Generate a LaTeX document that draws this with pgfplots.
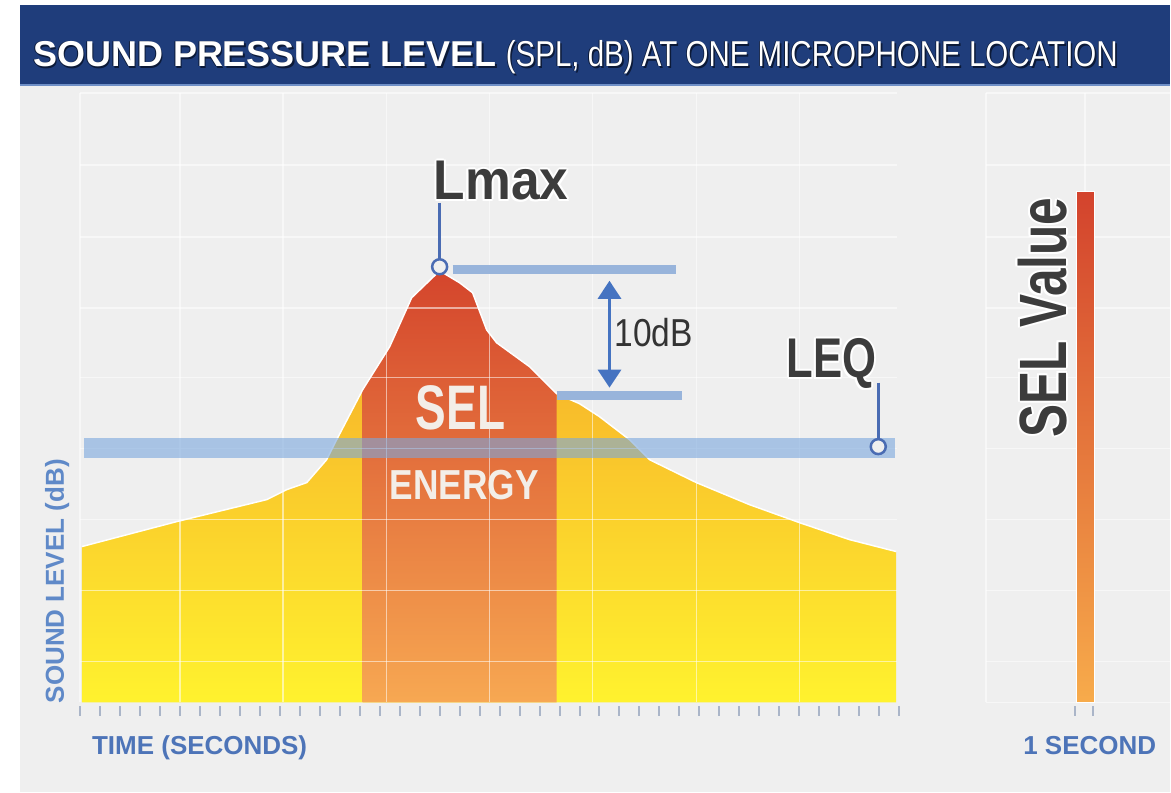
\documentclass[border=0pt]{standalone}
\usepackage{pgfplots}
\pgfplotsset{compat=1.18}
\usetikzlibrary{arrows.meta}
\usepackage{fontspec}
\setmainfont{Liberation Sans}
\newfontfamily\condLmax{Liberation Sans}[FakeStretch=0.92]
\newfontfamily\condLeq{Liberation Sans}[FakeStretch=0.78]
\newfontfamily\condSelV{Liberation Sans}[FakeStretch=0.74]
\newfontfamily\condSel{Liberation Sans}[FakeStretch=0.73]
\newfontfamily\condEn{Liberation Sans}[FakeStretch=0.84]
\newfontfamily\condTen{Liberation Sans}[FakeStretch=0.86]
\newfontfamily\condTitle{Liberation Sans}[FakeStretch=0.82]

\definecolor{bggray}{HTML}{EFEFEF}
\definecolor{navy}{HTML}{1F3D7B}
\definecolor{navyline}{HTML}{6F8FC6}
\definecolor{titleshadow}{HTML}{0C1A38}
\definecolor{ytop}{HTML}{F5A52A}
\definecolor{ybot}{HTML}{FFF22E}
\definecolor{rtop}{HTML}{D4452C}
\definecolor{rbot}{HTML}{F7A852}
\definecolor{leq}{HTML}{7AA7DD}
\definecolor{barblue}{HTML}{98B4DB}
\definecolor{lineblue}{HTML}{4A6CB3}
\definecolor{arrowblue}{HTML}{4573C1}
\definecolor{labc}{HTML}{3C3C3C}
\definecolor{axblue}{HTML}{4D74B8}
\definecolor{axblue2}{HTML}{5F89C8}
\definecolor{tickc}{HTML}{AAB5C8}
\definecolor{selwhite}{HTML}{F3EEE8}
\definecolor{svtop}{HTML}{D3432D}
\definecolor{svbot}{HTML}{F7AB4B}

\newcommand\halo[1]{\leavevmode
  \rlap{\color{white}\kern2pt #1}%
  \rlap{\color{white}\kern-2pt #1}%
  \rlap{\color{white}\raisebox{2pt}{#1}}%
  \rlap{\color{white}\raisebox{-2pt}{#1}}%
  \rlap{\color{white}\kern1.4pt\raisebox{1.4pt}{#1}}%
  \rlap{\color{white}\kern-1.4pt\raisebox{1.4pt}{#1}}%
  \rlap{\color{white}\kern1.4pt\raisebox{-1.4pt}{#1}}%
  \rlap{\color{white}\kern-1.4pt\raisebox{-1.4pt}{#1}}%
  #1}
\newcommand\shadowtext[1]{\leavevmode
  \rlap{\color{titleshadow}\kern1.6pt\raisebox{-1.6pt}{#1}}%
  \rlap{\color{titleshadow}\kern-0.8pt\raisebox{0.8pt}{#1}}%
  #1}

\begin{document}
\begin{tikzpicture}
\begin{axis}[
  x=1pt, y=1pt,
  xmin=0, xmax=1171, ymin=0, ymax=793,
  y dir=reverse,
  hide axis, clip=false,
]
% backgrounds
\addplot[fill=white, draw=none] coordinates {(0,0) (1171,0) (1171,793) (0,793)} -- cycle;
\addplot[fill=bggray, draw=none] coordinates {(20,86) (1171,86) (1171,793) (20,793)} -- cycle;
\addplot[fill=navy, draw=none] coordinates {(20,5) (1171,5) (1171,86) (20,86)} -- cycle;
\addplot[draw=navyline, line width=2] coordinates {(20,85) (1171,85)};

% sound level curve (yellow area)
\addplot[draw=none, top color=ytop, bottom color=ybot] coordinates {
 (82,703) (82,547) (177,522) (267,500) (287,490) (307,483) (327,460) (337,440)
 (350,415) (363,390) (390,347) (412,298) (440,271) (460,283) (473,293)
 (487,330) (497,343) (530,367) (557,394) (580,404) (600,417) (630,440) (650,460)
 (697,483) (750,505) (800,523) (850,540) (897,552) (897,703)} -- cycle;

% SEL energy band (1 second)
\addplot[draw=none, top color=rtop, bottom color=rbot] coordinates {
 (363,703) (363,390) (390,347) (412,298) (440,271) (460,283) (473,293)
 (487,330) (497,343) (530,367) (557,394) (557,703)} -- cycle;

% curve edge
\addplot[white, line width=1.5] coordinates {
 (82,547) (177,522) (267,500) (287,490) (307,483) (327,460) (337,440)
 (350,415) (363,390) (390,347) (412,298) (440,271) (460,283) (473,293)
 (487,330) (497,343) (530,367) (557,394) (580,404) (600,417) (630,440) (650,460)
 (697,483) (750,505) (800,523) (850,540) (897,552)};

% grid
\pgfplotsinvokeforeach{80,180,283,387,490,593,697,800}{
  \draw[white, opacity=0.55, line width=1.6] (axis cs:#1,93) -- (axis cs:#1,703);}
\pgfplotsinvokeforeach{93,165,237,308,378,449,520,591,662}{
  \draw[white, opacity=0.55, line width=1.6] (axis cs:80,#1) -- (axis cs:898,#1);}
\pgfplotsinvokeforeach{987,1086}{
  \draw[white, opacity=0.55, line width=1.6] (axis cs:#1,93) -- (axis cs:#1,703);}
\pgfplotsinvokeforeach{93,165,237,308,378,449,520,591,662,703}{
  \draw[white, opacity=0.55, line width=1.6] (axis cs:987,#1) -- (axis cs:1171,#1);}

% LEQ band
\addplot[draw=none, fill=leq, fill opacity=0.6] coordinates {(84,438) (896,438) (896,458) (84,458)} -- cycle;

% Lmax reference bars and 10 dB arrow
\addplot[barblue, line width=9] coordinates {(453,270) (677,270)};
\addplot[barblue, line width=9] coordinates {(557,396) (683,396)};
\addplot[arrowblue, line width=3, {Triangle[width=23pt,length=18pt]}-{Triangle[width=23pt,length=18pt]}] coordinates {(610,281) (610,388)};

% connectors and markers
\addplot[lineblue, line width=2.5] coordinates {(440,203) (440,259)};
\addplot[lineblue, line width=2.5] coordinates {(879,383) (879,439)};
\addplot[only marks, mark=*, mark size=7.5, mark options={draw=lineblue, fill=bggray, line width=2.5}] coordinates {(440,267) (879,447)};

% SEL value bar
\addplot[draw=white, line width=1, top color=svtop, bottom color=svbot] coordinates {(1077,192) (1095,192) (1095,703) (1077,703)} -- cycle;

% time ticks
\addplot[only marks, mark=|, mark size=5, mark options={draw=tickc, line width=2}] coordinates {
 (80,712) (100,712) (120,712) (140,712) (160,712) (180,712) (200,712) (220,712)
 (240,712) (260,712) (280,712) (300,712) (320,712) (340,712) (360,712) (380,712)
 (400,712) (420,712) (440,712) (460,712) (480,712) (500,712) (520,712) (540,712)
 (560,712) (580,712) (600,712) (620,712) (640,712) (660,712) (680,712) (700,712)
 (720,712) (740,712) (760,712) (780,712) (800,712) (820,712) (840,712) (860,712)
 (880,712) (900,712) (1076,712) (1094,712)};

% texts
\node[anchor=base west, inner sep=0, text=white] at (axis cs:33,67)
  {\shadowtext{{\bfseries\fontsize{36}{40}\selectfont SOUND PRESSURE LEVEL}\hspace{9pt}{\condTitle\fontsize{36}{40}\selectfont (SPL, dB) AT ONE MICROPHONE LOCATION}}};

\node[anchor=base west, inner sep=0, text=labc] at (axis cs:434,200)
  {\condLmax\bfseries\fontsize{56}{60}\selectfont\halo{Lmax}};
\node[anchor=base west, inner sep=0, text=labc] at (axis cs:787,378)
  {\condLeq\bfseries\fontsize{56}{60}\selectfont\halo{LEQ}};
\node[anchor=base west, inner sep=0, text=labc, rotate=90] at (axis cs:1067,438)
  {\condSelV\bfseries\fontsize{67}{70}\selectfont\halo{SEL Value}};
\node[anchor=base west, inner sep=0, text=black!80] at (axis cs:615,347)
  {\condTen\fontsize{39}{42}\selectfont 10dB};
\node[anchor=base west, inner sep=0, text=selwhite] at (axis cs:416,430)
  {\condSel\bfseries\fontsize{63}{66}\selectfont SEL};
\node[anchor=base west, inner sep=0, text=selwhite] at (axis cs:390,500)
  {\condEn\bfseries\fontsize{42}{45}\selectfont ENERGY};

\node[anchor=base west, inner sep=0, text=axblue] at (axis cs:92,755)
  {\bfseries\fontsize{26}{28}\selectfont TIME (SECONDS)};
\node[anchor=base west, inner sep=0, text=axblue] at (axis cs:1024,755)
  {\bfseries\fontsize{26}{28}\selectfont 1 SECOND};
\node[anchor=base west, inner sep=0, text=axblue2, rotate=90] at (axis cs:64,704)
  {\bfseries\fontsize{26}{28}\selectfont SOUND LEVEL (dB)};
\end{axis}
\end{tikzpicture}
\end{document}
